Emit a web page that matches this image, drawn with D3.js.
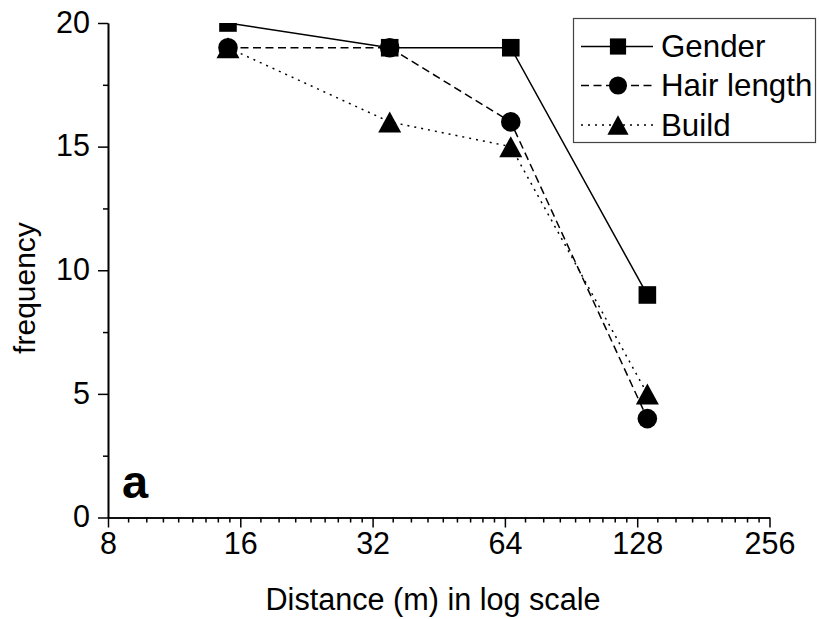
<!DOCTYPE html>
<html>
<head>
<meta charset="utf-8">
<script src="https://cdn.jsdelivr.net/npm/d3@7"></script>
<style>
  html, body { margin: 0; padding: 0; background: #fff; }
  svg { display: block; font-family: "Liberation Sans", Arial, sans-serif; }
</style>
</head>
<body>
<svg id="chart" width="819" height="619"></svg>
<script>
// ---- data ----
const distances = [15, 35, 66, 135];
const gender = [20, 19, 19, 9];
const hairLength = [19, 19, 16, 4];
const build = [19, 16, 15, 5];
const seriesNames = ["Gender", "Hair length", "Build"];
const xTickValues = [8, 16, 32, 64, 128, 256];
const yTickValues = [0, 5, 10, 15, 20];

const series = [
  { name: seriesNames[0], values: gender, symbol: "square", dash: null },
  { name: seriesNames[1], values: hairLength, symbol: "circle", dash: "8,4.5" },
  { name: seriesNames[2], values: build, symbol: "triangle", dash: "2,5" }
];

const svg = d3.select("#chart");
const x = d3.scaleLog().base(2).domain([8, 256]).range([108, 769.5]);
const y = d3.scaleLinear().domain([0, 20]).range([517.5, 23]);

// minor ticks: 8 per octave, linear steps of base/9
const xMinor = [];
for (let i = 0; i < xTickValues.length - 1; i++) {
  for (let k = 1; k <= 8; k++) xMinor.push(xTickValues[i] * (1 + k / 9));
}
const yMinor = [2.5, 7.5, 12.5, 17.5];

// clip
svg.append("defs").append("clipPath").attr("id", "clip")
  .append("rect").attr("x", 60).attr("y", y(20)).attr("width", 740).attr("height", y(0) - y(20) + 60);

// axes
const xAxisMinor = svg.append("g").attr("transform", `translate(0,${y(0)})`)
  .call(d3.axisBottom(x).tickValues(xMinor).tickSize(5).tickSizeOuter(0).tickFormat(""));
const xAxis = svg.append("g").attr("transform", `translate(0,${y(0)})`)
  .call(d3.axisBottom(x).tickValues(xTickValues).tickSize(10).tickSizeOuter(0).tickFormat(d3.format("d")));
const yAxisMinor = svg.append("g").attr("transform", `translate(${x(8)},0)`)
  .call(d3.axisLeft(y).tickValues(yMinor).tickSize(5).tickSizeOuter(0).tickFormat(""));
const yAxis = svg.append("g").attr("transform", `translate(${x(8)},0)`)
  .call(d3.axisLeft(y).tickValues(yTickValues).tickSize(10).tickSizeOuter(0));

[xAxisMinor, xAxis, yAxisMinor, yAxis].forEach(g => {
  g.selectAll("path.domain").attr("stroke", "#000").attr("stroke-width", 1.6);
  g.selectAll(".tick line").attr("stroke", "#000").attr("stroke-width", 1.5);
});
xAxis.selectAll(".tick text").attr("font-size", 30.5).attr("fill", "#000")
  .attr("font-family", "Liberation Sans, Arial, sans-serif").attr("y", 15).attr("dy", "0.71em");
yAxis.selectAll(".tick text").attr("font-size", 30.5).attr("fill", "#000")
  .attr("font-family", "Liberation Sans, Arial, sans-serif").attr("x", -18).attr("dy", "0.3em");

// axis titles
svg.append("text").attr("x", 433).attr("y", 610).attr("text-anchor", "middle")
  .attr("font-size", 30.6).text("Distance (m) in log scale");
svg.append("text").attr("transform", "translate(35,288) rotate(-90)").attr("text-anchor", "middle")
  .attr("font-size", 30).text("frequency");

// panel label
svg.append("text").attr("x", 122).attr("y", 498).attr("font-size", 47).attr("font-weight", "bold").text("a");

// symbols
function drawSymbol(g, type, cx, cy, scale) {
  const s = scale || 1;
  if (type === "square") {
    const h = 8.8 * s;
    g.append("rect").attr("x", cx - h).attr("y", cy - h).attr("width", 2 * h).attr("height", 2 * h).attr("fill", "#000");
  } else if (type === "circle") {
    g.append("circle").attr("cx", cx).attr("cy", cy).attr("r", 9.8 * s).attr("fill", "#000");
  } else {
    const w = 11.5 * s, h = 10.5 * s;
    g.append("path").attr("d", `M${cx},${cy - h}L${cx + w},${cy + h}L${cx - w},${cy + h}Z`).attr("fill", "#000");
  }
}

const plot = svg.append("g").attr("clip-path", "url(#clip)");
const line = d3.line().x(d => x(d[0])).y(d => y(d[1]));
series.forEach(s => {
  const pts = distances.map((d, i) => [d, s.values[i]]);
  plot.append("path").datum(pts).attr("d", line).attr("fill", "none").attr("stroke", "#000")
    .attr("stroke-width", 1.5).attr("stroke-dasharray", s.dash);
});
series.forEach(s => {
  distances.forEach((d, i) => drawSymbol(plot, s.symbol, x(d), y(s.values[i]), 1));
});

// legend
const lg = svg.append("g");
lg.append("rect").attr("x", 573.5).attr("y", 18.5).attr("width", 242).attr("height", 124)
  .attr("fill", "#fff").attr("stroke", "#444").attr("stroke-width", 1.2);
const legendY = [46.5, 85.5, 125];
series.forEach((s, i) => {
  const ly = legendY[i];
  lg.append("line").attr("x1", 581).attr("x2", 653).attr("y1", ly).attr("y2", ly)
    .attr("stroke", "#000").attr("stroke-width", 1.3).attr("stroke-dasharray", s.dash);
  drawSymbol(lg, s.symbol, 618, ly, 0.92);
  lg.append("text").attr("x", 661).attr("y", ly + 10.5).attr("font-size", 31.3).text(s.name);
});
</script>
</body>
</html>
